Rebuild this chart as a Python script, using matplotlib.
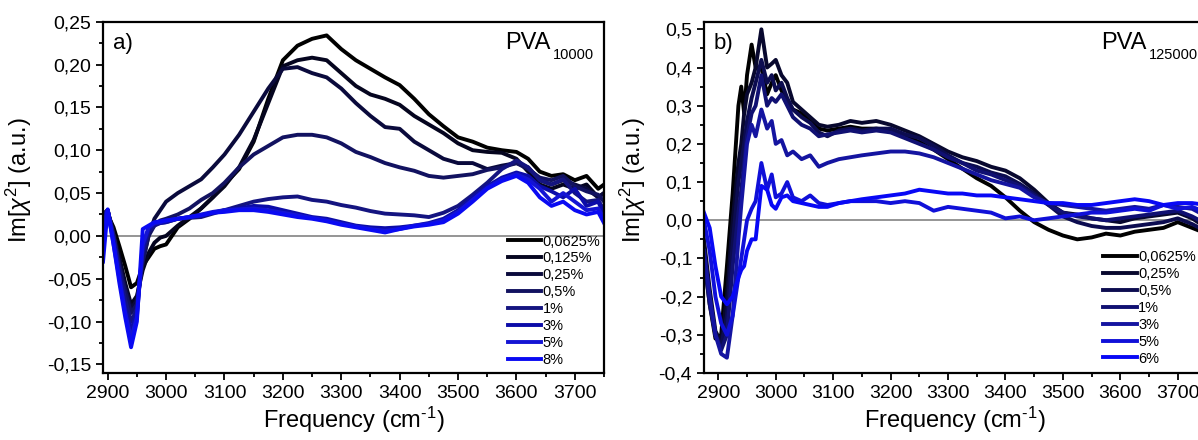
import numpy as np
import matplotlib
matplotlib.use("Agg")
import matplotlib.pyplot as plt
from matplotlib.ticker import MultipleLocator, FuncFormatter

plt.rcParams['font.family'] = ['Liberation Sans', 'DejaVu Sans']
plt.rcParams['mathtext.fontset'] = 'custom'
plt.rcParams['mathtext.rm'] = 'Liberation Sans'
plt.rcParams['mathtext.it'] = 'Liberation Sans:italic'

# ---- panel a: PVA 10000 ----
freq_a = [2892, 2900, 2910, 2920, 2930, 2940, 2950, 2960, 2970, 2980, 2990, 3000,
          3020, 3040, 3060, 3080, 3100, 3125, 3150, 3175, 3200, 3225, 3250, 3275,
          3300, 3325, 3350, 3375, 3400, 3425, 3450, 3475, 3500, 3525, 3550, 3575,
          3600, 3620, 3640, 3660, 3680, 3700, 3720, 3740, 3750]
labels_a = ['0,0625%', '0,125%', '0,25%', '0,5%', '1%', '3%', '5%', '8%']
colors_a = ['#000000', '#05051f', '#0a0a3c', '#121260', '#141480', '#0c0ca8', '#1414d4', '#0a0af2']
a_00625 = [0.015, 0.025, 0.010, -0.012, -0.035, -0.060, -0.055, -0.035, -0.025, -0.015, -0.012, -0.010,
           0.010, 0.020, 0.032, 0.045, 0.060, 0.078, 0.110, 0.160, 0.205, 0.222, 0.230, 0.234,
           0.218, 0.205, 0.195, 0.185, 0.176, 0.160, 0.142, 0.128, 0.115, 0.110, 0.103, 0.100,
           0.098, 0.090, 0.075, 0.070, 0.072, 0.065, 0.070, 0.055, 0.060]
a_0125 = [0.020, 0.028, 0.005, -0.025, -0.055, -0.080, -0.070, -0.040, -0.020, -0.008, -0.002, 0.000,
          0.012, 0.022, 0.032, 0.045, 0.058, 0.080, 0.112, 0.155, 0.198, 0.205, 0.208, 0.205,
          0.190, 0.175, 0.165, 0.160, 0.153, 0.140, 0.130, 0.120, 0.108, 0.100, 0.098, 0.097,
          0.090, 0.075, 0.060, 0.055, 0.060, 0.055, 0.060, 0.045, 0.050]
a_025 = [0.025, 0.030, 0.000, -0.030, -0.060, -0.085, -0.075, -0.030, 0.000, 0.020, 0.030, 0.040,
         0.050, 0.058, 0.066, 0.080, 0.095, 0.118, 0.145, 0.172, 0.195, 0.197, 0.190, 0.185,
         0.172, 0.155, 0.140, 0.127, 0.125, 0.110, 0.100, 0.090, 0.085, 0.085, 0.078, 0.082,
         0.085, 0.080, 0.065, 0.060, 0.065, 0.060, 0.055, 0.045, 0.050]
a_05 = [0.025, 0.030, 0.000, -0.035, -0.065, -0.090, -0.080, -0.030, 0.000, 0.012, 0.018, 0.020,
        0.025, 0.032, 0.042, 0.050, 0.062, 0.080, 0.095, 0.105, 0.115, 0.118, 0.118, 0.115,
        0.108, 0.098, 0.092, 0.085, 0.080, 0.076, 0.070, 0.068, 0.070, 0.072, 0.077, 0.080,
        0.085, 0.078, 0.068, 0.065, 0.070, 0.058, 0.052, 0.048, 0.040]
a_1 = [0.025, 0.030, 0.000, -0.040, -0.075, -0.100, -0.085, -0.020, 0.005, 0.012, 0.015, 0.016,
       0.020, 0.021, 0.022, 0.026, 0.030, 0.035, 0.040, 0.043, 0.045, 0.046, 0.042, 0.040,
       0.036, 0.033, 0.029, 0.026, 0.025, 0.024, 0.022, 0.027, 0.035, 0.048, 0.062, 0.078,
       0.088, 0.080, 0.065, 0.060, 0.066, 0.050, 0.040, 0.042, 0.030]
a_3 = [0.020, 0.030, -0.005, -0.045, -0.085, -0.110, -0.090, -0.015, 0.008, 0.014, 0.015, 0.016,
       0.020, 0.022, 0.024, 0.027, 0.030, 0.032, 0.035, 0.034, 0.030, 0.026, 0.022, 0.020,
       0.016, 0.012, 0.010, 0.009, 0.010, 0.012, 0.015, 0.020, 0.030, 0.045, 0.058, 0.068,
       0.074, 0.070, 0.058, 0.052, 0.045, 0.055, 0.035, 0.040, 0.025]
a_5 = [0.010, 0.030, -0.010, -0.050, -0.090, -0.120, -0.095, -0.010, 0.010, 0.015, 0.016, 0.018,
       0.020, 0.022, 0.025, 0.028, 0.030, 0.031, 0.032, 0.030, 0.027, 0.024, 0.021, 0.018,
       0.014, 0.011, 0.008, 0.006, 0.008, 0.012, 0.014, 0.018, 0.028, 0.042, 0.056, 0.066,
       0.072, 0.066, 0.055, 0.040, 0.050, 0.040, 0.030, 0.032, 0.020]
a_8 = [-0.030, 0.031, -0.010, -0.055, -0.095, -0.130, -0.100, 0.008, 0.012, 0.016, 0.017, 0.018,
       0.020, 0.022, 0.024, 0.027, 0.028, 0.030, 0.030, 0.028, 0.025, 0.022, 0.020, 0.017,
       0.013, 0.010, 0.007, 0.004, 0.008, 0.011, 0.013, 0.016, 0.026, 0.040, 0.055, 0.064,
       0.070, 0.062, 0.045, 0.035, 0.040, 0.030, 0.025, 0.028, 0.015]
series_a = [a_00625, a_0125, a_025, a_05, a_1, a_3, a_5, a_8]

# ---- panel b: PVA 125000 ----
freq_b = [2875, 2885, 2895, 2905, 2915, 2925, 2935, 2940, 2945, 2950, 2958, 2965, 2975, 2985,
          2993, 3000, 3010, 3020, 3030, 3045, 3060, 3075, 3090, 3110, 3130, 3150, 3175, 3200,
          3225, 3250, 3275, 3300, 3325, 3350, 3375, 3400, 3425, 3450, 3475, 3500, 3525, 3550,
          3575, 3600, 3625, 3650, 3675, 3700, 3725, 3750]
labels_b = ['0,0625%', '0,25%', '0,5%', '1%', '3%', '5%', '6%']
colors_b = ['#000000', '#08082e', '#0c0c50', '#101072', '#1414a0', '#1010d8', '#0808f5']
b_00625 = [-0.10, -0.22, -0.31, -0.30, -0.12, 0.07, 0.30, 0.35, 0.28, 0.38, 0.46, 0.40, 0.40, 0.33,
           0.36, 0.38, 0.34, 0.31, 0.29, 0.28, 0.26, 0.24, 0.235, 0.24, 0.245, 0.24, 0.24, 0.235,
           0.22, 0.205, 0.185, 0.16, 0.135, 0.11, 0.09, 0.06, 0.025, -0.005, -0.025, -0.04, -0.05, -0.045,
           -0.035, -0.04, -0.03, -0.025, -0.02, -0.005, -0.02, -0.035]
b_025 = [-0.05, -0.18, -0.29, -0.32, -0.20, 0.00, 0.15, 0.20, 0.28, 0.33, 0.36, 0.40, 0.50, 0.40,
         0.41, 0.42, 0.38, 0.36, 0.31, 0.29, 0.27, 0.25, 0.245, 0.25, 0.26, 0.255, 0.26, 0.25,
         0.235, 0.22, 0.20, 0.18, 0.165, 0.155, 0.14, 0.13, 0.11, 0.08, 0.045, 0.02, 0.015, 0.005,
         0.00, -0.005, 0.005, 0.01, 0.015, 0.02, 0.005, -0.02]
b_05 = [-0.08, -0.20, -0.30, -0.33, -0.25, -0.06, 0.10, 0.15, 0.20, 0.26, 0.32, 0.36, 0.42, 0.36,
        0.38, 0.34, 0.36, 0.32, 0.29, 0.27, 0.255, 0.23, 0.22, 0.235, 0.24, 0.235, 0.24, 0.24,
        0.225, 0.215, 0.195, 0.17, 0.15, 0.14, 0.125, 0.115, 0.095, 0.07, 0.04, 0.01, -0.005, -0.015,
        -0.02, -0.02, -0.015, -0.01, -0.005, 0.005, -0.01, -0.03]
b_1 = [-0.10, -0.22, -0.30, -0.34, -0.30, -0.12, 0.02, 0.08, 0.15, 0.22, 0.28, 0.30, 0.38, 0.30,
       0.32, 0.31, 0.33, 0.30, 0.27, 0.25, 0.24, 0.22, 0.225, 0.23, 0.235, 0.23, 0.235, 0.23,
       0.215, 0.20, 0.185, 0.165, 0.15, 0.13, 0.12, 0.105, 0.09, 0.065, 0.04, 0.02, 0.01, 0.005,
       0.00, 0.005, 0.01, 0.015, 0.02, 0.025, 0.01, -0.01]
b_3 = [-0.08, -0.20, -0.30, -0.35, -0.36, -0.25, -0.05, 0.04, 0.12, 0.20, 0.25, 0.22, 0.29, 0.24,
       0.26, 0.20, 0.21, 0.17, 0.18, 0.16, 0.17, 0.14, 0.15, 0.16, 0.165, 0.17, 0.175, 0.18,
       0.18, 0.175, 0.165, 0.15, 0.135, 0.12, 0.105, 0.095, 0.085, 0.06, 0.045, 0.04, 0.035, 0.03,
       0.025, 0.03, 0.035, 0.03, 0.04, 0.035, 0.03, 0.01]
b_5 = [0.00, -0.08, -0.20, -0.27, -0.30, -0.25, -0.15, -0.10, -0.05, 0.00, 0.03, 0.05, 0.15, 0.08,
       0.12, 0.06, 0.07, 0.10, 0.06, 0.05, 0.065, 0.045, 0.04, 0.045, 0.05, 0.05, 0.05, 0.045,
       0.05, 0.045, 0.025, 0.035, 0.03, 0.025, 0.02, 0.005, 0.01, 0.00, 0.005, 0.01, 0.015, 0.02,
       0.02, 0.025, 0.03, 0.025, 0.04, 0.03, 0.035, 0.02]
b_6 = [0.02, -0.02, -0.12, -0.20, -0.22, -0.20, -0.15, -0.13, -0.12, -0.08, -0.05, -0.05, 0.09, 0.08,
       0.04, 0.03, 0.06, 0.065, 0.05, 0.045, 0.04, 0.035, 0.035, 0.045, 0.05, 0.055, 0.06, 0.065,
       0.07, 0.08, 0.075, 0.07, 0.07, 0.065, 0.065, 0.06, 0.055, 0.05, 0.045, 0.045, 0.04, 0.04,
       0.045, 0.05, 0.055, 0.05, 0.04, 0.045, 0.045, 0.04]
series_b = [b_00625, b_025, b_05, b_1, b_3, b_5, b_6]


def comma(fmt):
    return FuncFormatter(lambda v, p: (fmt % v).replace('.', ','))


fig = plt.figure(figsize=(11.98, 4.4), dpi=100)
ax_a = fig.add_axes([0.086, 0.1523, 0.4182, 0.7984])
ax_b = fig.add_axes([0.5876, 0.1523, 0.4195, 0.7984])

panels = [
    (ax_a, freq_a, series_a, labels_a, colors_a, 'a)', '10000',
     (2892, 3750), (-0.16, 0.25), 0.05, '%.2f', (0.808, 0.394), (0.802, 0.898), -0.138),
    (ax_b, freq_b, series_b, labels_b, colors_b, 'b)', '125000',
     (2875, 3750), (-0.40, 0.52), 0.1, '%.1f', (0.794, 0.350), (0.790, 0.886), -0.111),
]

for ax, fr, ser, labs, cols, tag, mw, xl, yl, ystep, yfmt, legpos, tx, ylx in panels:
    ax.axhline(0, color='#8c8c8c', lw=1.3, zorder=1)
    for y, lab, c in zip(ser, labs, cols):
        ax.plot(fr, y, color=c, lw=2.8, label=lab, zorder=2)
    ax.set_xlim(*xl)
    ax.set_ylim(*yl)
    ax.xaxis.set_major_locator(MultipleLocator(100))
    ax.xaxis.set_minor_locator(MultipleLocator(50))
    ax.yaxis.set_major_locator(MultipleLocator(ystep))
    ax.yaxis.set_minor_locator(MultipleLocator(ystep / 2))
    ax.yaxis.set_major_formatter(comma(yfmt))
    ax.tick_params(which='both', direction='out', width=1.3, labelsize=14, top=False, right=False)
    ax.tick_params(which='major', length=5)
    ax.tick_params(which='minor', length=3)
    for s in ax.spines.values():
        s.set_linewidth(1.6)
    ax.set_xlabel('Frequency (cm$^{\\mathregular{\u2010 1}}$)', fontsize=17, labelpad=2)
    ax.set_ylabel(r'Im[$\chi^{\mathregular{2}}$] (a.u.)', fontsize=17)
    ax.yaxis.set_label_coords(ylx, 0.55)
    ax.text(0.02, 0.968, tag, transform=ax.transAxes, fontsize=16, va='top', ha='left')
    ax.text(tx[0], 0.972, 'PVA', transform=ax.transAxes, fontsize=17, va='top', ha='left')
    ax.text(tx[1], 0.925, mw, transform=ax.transAxes, fontsize=10.5, va='top', ha='left')
    ax.legend(loc='upper left', bbox_to_anchor=legpos, frameon=False, fontsize=10.5,
              handlelength=2.3, handletextpad=0.1, labelspacing=0.2, borderpad=0,
              borderaxespad=0)

fig.savefig('out.png', dpi=100)
